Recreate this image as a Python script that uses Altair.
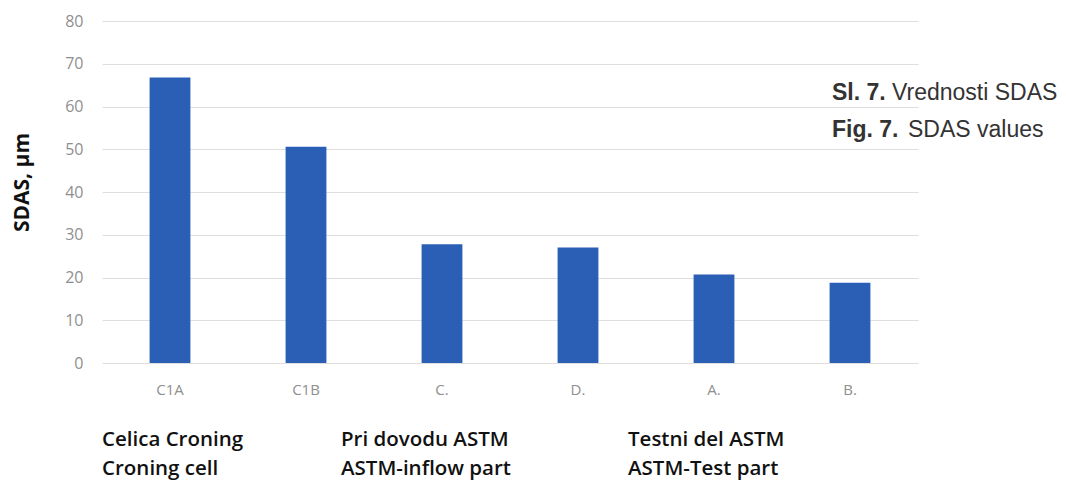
import altair as alt
import pandas as pd

categories = ["C1A", "C1B", "C.", "D.", "A.", "B."]
sdas_values = [66.8, 50.6, 27.8, 27.0, 20.7, 18.8]
y_ticks = [0, 10, 20, 30, 40, 50, 60, 70, 80]

group_line1 = ["Celica Croning", "Pri dovodu ASTM", "Testni del ASTM"]
group_line2 = ["Croning cell", "ASTM-inflow part", "ASTM-Test part"]
group_x = [0, 239, 526]  # left edge of each group caption, px in plot area

caption_bold = ["Sl. 7.", "Fig. 7."]
caption_regular = ["Vrednosti SDAS", "SDAS values"]

df = pd.DataFrame({"cat": categories, "val": sdas_values})

bars = alt.Chart(df).mark_bar(color="#2A5FB5").encode(
    x=alt.X("cat:N", sort=categories,
            scale=alt.Scale(paddingInner=0.7, paddingOuter=0.35),
            axis=alt.Axis(title=None, labelAngle=0, labelColor="#8f8f8f",
                          labelFont="Open Sans", labelFontSize=15,
                          labelPadding=19, ticks=False, domain=False,
                          grid=False)),
    y=alt.Y("val:Q", scale=alt.Scale(domain=[0, 80], nice=False),
            axis=alt.Axis(values=y_ticks, title="SDAS, µm",
                          titleFont="Open Sans", titleFontSize=21,
                          titleFontWeight="bold", titleColor="#111111",
                          titlePadding=32, titleY=161,
                          labelColor="#8f8f8f", labelFont="Open Sans",
                          labelFontSize=16, labelPadding=19,
                          ticks=False, domain=False,
                          gridColor="#dedede", gridWidth=1)),
)

layers = [bars]

for i in range(3):
    t = alt.Chart(pd.DataFrame({"t": [group_line1[i]]})).mark_text(
        align="left", baseline="alphabetic", font="Open Sans",
        fontSize=20.5, fontWeight=600, color="#111111"
    ).encode(text="t:N", x=alt.value(group_x[i]), y=alt.value(425))
    t2 = alt.Chart(pd.DataFrame({"t": [group_line2[i]]})).mark_text(
        align="left", baseline="alphabetic", font="Open Sans",
        fontSize=20.5, fontWeight=600, color="#111111"
    ).encode(text="t:N", x=alt.value(group_x[i]), y=alt.value(454))
    layers += [t, t2]

cap_y = [79, 116]
bold_x = [730, 730]
reg_x = [790, 806]
for i in range(2):
    b = alt.Chart(pd.DataFrame({"t": [caption_bold[i]]})).mark_text(
        align="left", baseline="alphabetic", font="Liberation Sans",
        fontSize=23, fontWeight="bold", color="#333333"
    ).encode(text="t:N", x=alt.value(bold_x[i]), y=alt.value(cap_y[i]))
    r = alt.Chart(pd.DataFrame({"t": [caption_regular[i]]})).mark_text(
        align="left", baseline="alphabetic", font="Liberation Sans",
        fontSize=23, color="#333333"
    ).encode(text="t:N", x=alt.value(reg_x[i]), y=alt.value(cap_y[i]))
    layers += [b, r]

chart = alt.layer(*layers).properties(
    width=816, height=342,
    padding={"left": 94, "top": 13, "right": 140, "bottom": 120},
    autosize=alt.AutoSizeParams(type="none"),
).configure(background="white").configure_view(stroke=None, strokeWidth=0)

chart.save("out.html", embed_options={"renderer": "svg", "actions": False})
